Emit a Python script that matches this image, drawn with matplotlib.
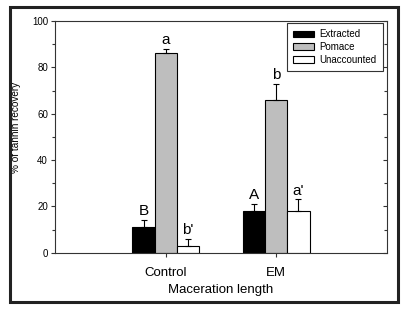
import numpy as np
import matplotlib
matplotlib.use('Agg')
import matplotlib.pyplot as plt
from matplotlib.patches import Rectangle

plt.rcParams['font.family'] = ['Liberation Sans', 'DejaVu Sans']

# data
groups = ['Control', 'EM']
series = ['Extracted', 'Pomace', 'Unaccounted']
means = {'Extracted': [11, 18], 'Pomace': [86, 66], 'Unaccounted': [3, 18]}
errors = {'Extracted': [3, 3], 'Pomace': [2, 7], 'Unaccounted': [3, 5]}
letters = {'Extracted': ['B', 'A'], 'Pomace': ['a', 'b'], 'Unaccounted': ["b'", "a'"]}
colors = {'Extracted': 'black', 'Pomace': '#bebebe', 'Unaccounted': 'white'}

fig = plt.figure(figsize=(4.07, 3.10), dpi=100)
ax = fig.add_axes([55/407, 1-252.7/310, 332/407, 231.7/310])

x = np.arange(1, len(groups)+1)
width = 0.2
for i, s in enumerate(series):
    pos = x + (i-1)*width
    ax.bar(pos, means[s], width, color=colors[s], edgecolor='black', linewidth=0.8,
           label=s, zorder=2)
    ax.errorbar(pos, means[s], yerr=[np.zeros(len(groups)), errors[s]], fmt='none',
                ecolor='black', elinewidth=0.8, capsize=2.2, capthick=0.8, zorder=3)
    for p, m, e, t in zip(pos, means[s], errors[s], letters[s]):
        ax.annotate(t, (p, m+e), xytext=(0, 3.5), textcoords='offset points',
                    ha='center', va='baseline', fontsize=11)

ax.set_xlim(0, 3)
ax.set_ylim(0, 100)
ax.set_xticks(x)
ax.set_xticklabels(groups, fontsize=9.5)
ax.set_yticks(np.arange(0, 101, 20))
ax.set_yticks(np.arange(10, 100, 20), minor=True)
ax.tick_params(axis='y', which='major', labelsize=7, length=3, width=0.8, pad=2,
               right=True, color='#333333')
ax.tick_params(axis='y', which='minor', length=2, width=0.8, right=True, color='#333333')
ax.tick_params(axis='x', length=3, width=0.8, pad=7, color='#333333')
for side in ['left', 'right', 'top', 'bottom']:
    ax.spines[side].set_color('#333333')
    ax.spines[side].set_linewidth(0.8)

# right-side ticks point inward, left ones outward
for t in ax.yaxis.get_major_ticks() + ax.yaxis.get_minor_ticks():
    t.tick2line.set_marker(matplotlib.lines.TICKLEFT)

ax.set_xlabel('Maceration length', fontsize=9.5)
ax.set_ylabel('% of tannin recovery', fontsize=7.2)
ax.xaxis.set_label_coords(0.5, -0.135)
ax.yaxis.set_label_coords(-0.102, 0.54)

leg = ax.legend(loc='upper left', bbox_to_anchor=(0.698, 0.789, 0.29, 0.201),
                mode='expand', borderaxespad=0, fontsize=7, fancybox=False,
                edgecolor='#333333', framealpha=1, handlelength=2.2,
                handleheight=0.62, handletextpad=0.5, labelspacing=0.3,
                borderpad=0.6)
leg.get_frame().set_linewidth(0.8)

# thick frame around the whole figure
fig.patches.append(Rectangle((10/407, 1-301.5/310), 387.5/407, 294.5/310,
                             transform=fig.transFigure, fill=False,
                             edgecolor='#222222', linewidth=2.2))

fig.savefig('out.png', dpi=100)
